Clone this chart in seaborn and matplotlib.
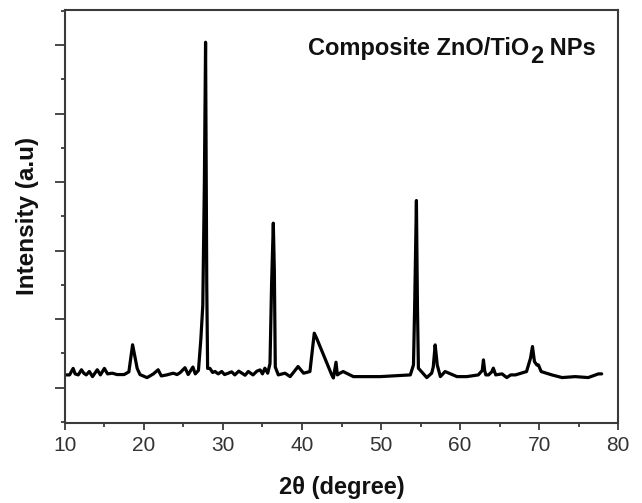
import matplotlib
matplotlib.use("Agg")
import matplotlib.pyplot as plt
import seaborn as sns
import pandas as pd
from matplotlib.ticker import MultipleLocator

# --- data (2theta in degrees, intensity in a.u.) ---
two_theta = [10.2, 10.6, 11.05, 11.3, 11.7, 12.1, 12.4, 12.7, 13.1, 13.5, 14.1, 14.5, 15.0, 15.4,
             16.0, 16.6, 17.5, 18.1, 18.57, 19.15, 19.5, 20.4, 21.2, 21.8, 22.2, 22.9, 23.7,
             24.2, 24.6, 25.2, 25.6, 26.2, 26.5, 26.9, 27.2, 27.45, 27.65, 27.8, 27.95, 28.06,
             28.35, 28.7, 28.99, 29.4, 29.84, 30.2, 30.67, 31.1, 31.5, 32.0, 32.4, 32.8, 33.2,
             33.8, 34.3, 34.7, 35.0, 35.3, 35.66, 35.95, 36.15, 36.37, 36.5, 36.62, 37.0, 37.85,
             38.5, 39.5, 40.2, 41.0, 41.55, 41.85, 43.76, 43.97, 44.3, 44.47, 44.8, 45.2, 46.5,
             49.9, 53.7, 54.1, 54.25, 54.47, 54.6, 54.72, 55.78, 56.4, 56.6, 56.84, 57.0, 57.1,
             57.5, 58.1, 59.6, 60.85, 62.3, 62.8, 62.95, 63.1, 63.25, 63.6, 64.0, 64.2, 64.5,
             65.3, 65.9, 66.4, 67.0, 68.4, 68.9, 69.15, 69.4, 69.7, 69.9, 70.25, 71.6, 72.9,
             74.55, 76.2, 77.5, 77.9]
intensity = [185, 185, 280, 200, 185, 260, 210, 185, 235, 160, 260, 185, 280, 200,
             210, 190, 190, 230, 625, 280, 190, 145, 200, 260, 170, 185, 210,
             190, 220, 290, 190, 300, 200, 250, 700, 1200, 3000, 5040, 1500, 280,
             280, 220, 235, 200, 235, 190, 210, 230, 185, 240, 210, 180, 235,
             185, 240, 258, 200, 283, 210, 350, 1500, 2400, 1700, 300, 185, 210,
             160, 307, 210, 234, 794, 720, 185, 140, 370, 185, 210, 234, 160,
             160, 185, 331, 1200, 2730, 1200, 283, 146, 210, 300, 623, 450, 331,
             160, 234, 160, 160, 185, 250, 404, 250, 185, 185, 230, 283, 185,
             200, 146, 185, 185, 234, 429, 599, 380, 330, 331, 234, 185, 146,
             160, 146, 200, 200]

x_ticks = [10, 20, 30, 40, 50, 60, 70, 80]
x_label = "2θ (degree)"
y_label = "Intensity (a.u)"
title_main = "Composite ZnO/TiO"
title_sub = "2"
title_tail = " NPs"

df = pd.DataFrame({"two_theta": two_theta, "intensity": intensity})

sns.set_style("ticks")
plt.rcParams["font.family"] = ["Liberation Sans", "DejaVu Sans"]

fig = plt.figure(figsize=(6.42, 5.03), dpi=100)
ax = fig.add_axes([0.101, 0.160, 0.862, 0.820])

sns.lineplot(data=df, x="two_theta", y="intensity", ax=ax, color="black",
             linewidth=2.3, sort=False, estimator=None)

ax.set_xlim(10, 80)
ax.set_ylim(-510, 5510)
ax.set_xticks(x_ticks)
ax.set_xticklabels([str(t) for t in x_ticks])
ax.xaxis.set_minor_locator(MultipleLocator(5))
ax.set_yticks([0, 1000, 2000, 3000, 4000, 5000])
ax.yaxis.set_minor_locator(MultipleLocator(500))
ax.set_yticklabels([])

spine_c = "#3a3a3a"
for s in ax.spines.values():
    s.set_color(spine_c)
    s.set_linewidth(1.5)

ax.tick_params(axis="x", which="major", direction="out", length=5, width=1.3,
               color=spine_c, labelsize=15, labelcolor="#333333", pad=5)
ax.tick_params(axis="x", which="minor", direction="out", length=3, width=1.3, color=spine_c)
ax.tick_params(axis="y", which="major", direction="out", length=7, width=1.3, color=spine_c)
ax.tick_params(axis="y", which="minor", direction="out", length=3, width=1.3, color=spine_c)

ax.set_xlabel(x_label, fontsize=17, fontweight="bold", labelpad=15, color="#111111")
ax.set_ylabel(y_label, fontsize=17.5, fontweight="bold", labelpad=8, color="#111111")

t1 = ax.text(0.4394, 0.891, title_main, transform=ax.transAxes, fontsize=17,
             fontweight="bold", ha="left", va="baseline", color="#111111")
t2 = ax.annotate(title_sub, xy=(1, 0), xycoords=t1, xytext=(0.5, -2.5),
                 textcoords="offset points", fontsize=17, fontweight="bold",
                 ha="left", va="baseline", color="#111111")
t3 = ax.annotate(title_tail, xy=(1, 0), xycoords=(t2, t1), fontsize=17,
                 fontweight="bold", ha="left", va="bottom", color="#111111")

fig.savefig("out.png", dpi=100)
